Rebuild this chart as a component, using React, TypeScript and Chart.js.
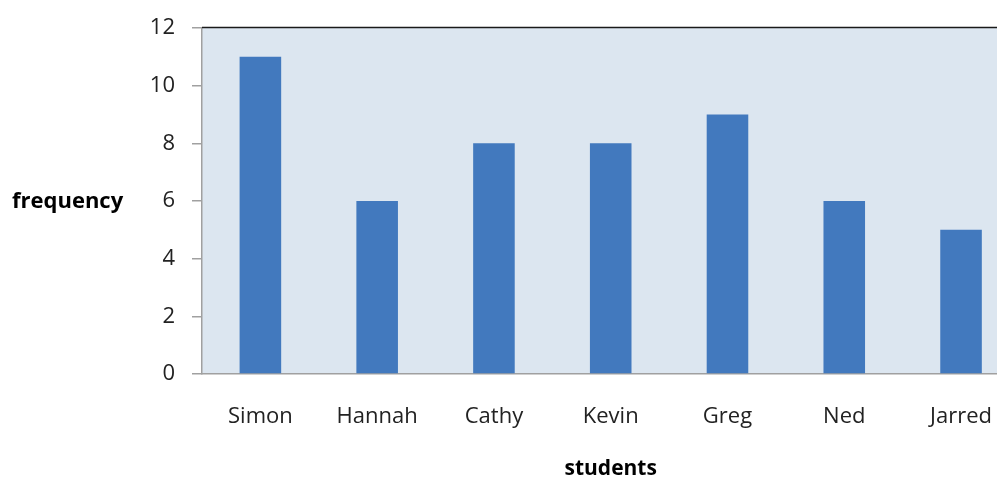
import React, { useEffect, useRef } from "react";
import { Chart, registerables } from "chart.js";

Chart.register(...registerables);

const categories = ["Simon", "Hannah", "Cathy", "Kevin", "Greg", "Ned", "Jarred"];
const frequencies = [11, 6, 8, 8, 9, 6, 5];
const yTitle = "frequency";
const xTitle = "students";

const FONT = "'Open Sans', 'Noto Sans', sans-serif";

export default function App() {
  const ref = useRef<HTMLCanvasElement | null>(null);

  useEffect(() => {
    document.documentElement.style.overflow = "hidden";
    document.body.style.overflow = "hidden";
    if (!ref.current) return;
    const decor = {
      id: "decor",
      beforeDraw(chart: any) {
        const { ctx, chartArea } = chart;
        ctx.save();
        ctx.fillStyle = "#DCE6F0";
        ctx.fillRect(chartArea.left, chartArea.top, chartArea.right - chartArea.left, chartArea.bottom - chartArea.top);
        ctx.restore();
      },
      afterDraw(chart: any) {
        const { ctx, chartArea } = chart;
        ctx.save();
        ctx.strokeStyle = "#1a1a1a";
        ctx.lineWidth = 1.5;
        ctx.beginPath();
        ctx.moveTo(chartArea.left, chartArea.top - 0.5);
        ctx.lineTo(chartArea.right, chartArea.top - 0.5);
        ctx.stroke();
        ctx.fillStyle = "#000";
        ctx.font = `bold 22px ${FONT}`;
        ctx.textAlign = "left";
        ctx.textBaseline = "middle";
        ctx.fillText(yTitle, 12, 202);
        ctx.restore();
      },
    };
    const chart = new Chart(ref.current, {
      type: "bar",
      data: {
        labels: categories,
        datasets: [
          {
            data: frequencies,
            backgroundColor: "#4279BE",
            barPercentage: 0.356,
            categoryPercentage: 1,
          },
        ],
      },
      options: {
        animation: false,
        responsive: false,
        maintainAspectRatio: false,
        layout: { padding: { left: 0, right: 0, top: 28, bottom: 0 } },
        plugins: { legend: { display: false }, tooltip: { enabled: false } },
        scales: {
          x: {
            grid: { display: false, drawTicks: false },
            border: { display: true, color: "#A0A0A0", width: 1.5 },
            ticks: { color: "#222", font: { family: FONT, size: 22 }, padding: 30 },
            title: {
              display: true,
              text: xTitle,
              color: "#000",
              font: { family: FONT, size: 21, weight: "bold" },
              padding: { top: 18, bottom: -3 },
            },
            afterFit(scale: any) {
              scale.height = 105;
            },
          },
          y: {
            min: 0,
            max: 12,
            ticks: { stepSize: 2, color: "#222", font: { family: FONT, size: 22, lineHeight: 1 }, padding: 17 },
            grid: { drawOnChartArea: false, drawTicks: true, tickLength: 10, color: "#A0A0A0", lineWidth: 1.5 },
            border: { display: true, color: "#A0A0A0", width: 1.5 },
            afterFit(scale: any) {
              scale.width = 202;
            },
          },
        },
      } as any,
      plugins: [decor],
    });
    return () => chart.destroy();
  }, []);

  return (
    <div style={{ position: "fixed", left: 0, top: 0, width: 997, height: 479, overflow: "hidden", background: "#fff" }}>
      <canvas ref={ref} width={1022} height={479} style={{ display: "block", width: 1022, height: 479 }} />
    </div>
  );
}
